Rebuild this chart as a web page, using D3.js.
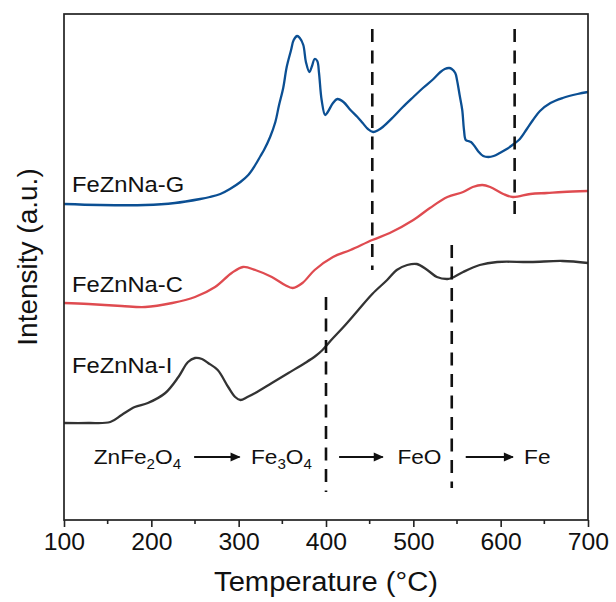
<!DOCTYPE html>
<html>
<head>
<meta charset="utf-8">
<script src="https://cdn.jsdelivr.net/npm/d3@7/dist/d3.min.js"></script>
<style>
  html, body { margin: 0; padding: 0; background: #fff; }
  svg text { font-family: "Liberation Sans", Arial, Helvetica, sans-serif; fill: #111; }
</style>
</head>
<body>
<svg id="chart" width="616" height="602"></svg>
<script>
// H2-TPR profiles (temperature in °C, intensity in a.u.)
const tempG = [100,141,193,227,256,267,279,290,302,311,319,325,329,336,342,346,351,355,360,363,367,370,374,377,381,384,387,390,392,395,399,402,408,413,420,428,436,442,448,454,460,465,477,488,500,511,523,531,536,541,544,548,550,553,556,558,560,563,566,570,574,580,586,592,599,607,615,622,630,637,645,657,671,688,700];
const intG  = [316,315,315,317,321,323,326,331,338,345,355,364,370,383,398,414,432,453,470,480,484,482,475,458,448,454,461,459,447,420,405,408,417,421,418,410,403,397,391,388,390,393,403,413,423,432,441,448,451,452,451,447,440,425,410,390,380,379,378,374,369,364,363,364,367,371,376,381,391,400,409,417,422,426,428];

const tempC = [100,128,166,193,224,250,273,292,305,319,338,353,362,373,387,408,428,453,473,500,519,539,557,568,579,588,603,614,634,653,671,700];
const intC  = [217,216,214,213,217,223,233,247,253,250,243,235,232,237,250,263,270,280,287,300,312,323,328,333,335,333,326,323,326,327,328,329];

const tempI = [100,128,153,166,181,196,216,231,242,250,258,265,276,288,296,302,310,319,338,357,376,388,396,405,420,436,453,470,481,493,504,516,527,539,544,557,576,596,634,671,700];
const intI  = [97,97,98,105,113,117,127,143,158,162,161,157,150,133,123,120,123,127,137,147,157,164,170,179,193,209,226,240,250,255,256,250,243,241,242,248,255,258,258,259,257];

const seriesNames  = ["FeZnNa-G", "FeZnNa-C", "FeZnNa-I"];
const seriesColors = ["#0b4f93", "#df4b50", "#333333"];

// phase-transition markers: temperature and vertical extent (a.u.)
const markerTemp   = [453, 616, 400, 544];
const markerTop    = [491, 491, 223, 275];
const markerBottom = [250, 302, 28, 32];

const xTicks = [100, 200, 300, 400, 500, 600, 700];
const xMinorTicks = [150, 250, 350, 450, 550, 650];

const W = 616, H = 602;
const m = { left: 64, right: 28, top: 14, bottom: 82 };
const svg = d3.select("#chart");
const stretch = 1.08;   // slightly wide lettering

const x = d3.scaleLinear().domain([100, 700]).range([m.left, W - m.right]);
const y = d3.scaleLinear().domain([0, 506]).range([H - m.bottom, m.top]);

function label(px, py, size, str, anchor) {
  return svg.append("text")
    .attr("transform", `translate(${px},${py}) scale(${stretch},1)`)
    .attr("font-size", size)
    .attr("text-anchor", anchor || "start")
    .text(str);
}

// curves
const series = [
  { name: seriesNames[0], color: seriesColors[0], t: tempG, v: intG, labelY: 192 },
  { name: seriesNames[1], color: seriesColors[1], t: tempC, v: intC, labelY: 292 },
  { name: seriesNames[2], color: seriesColors[2], t: tempI, v: intI, labelY: 373 }
];
const line = d3.line().x(d => x(d[0])).y(d => y(d[1])).curve(d3.curveCatmullRom.alpha(0.5));

series.forEach(s => {
  svg.append("path")
    .datum(d3.zip(s.t, s.v))
    .attr("fill", "none")
    .attr("stroke", s.color)
    .attr("stroke-width", 2.3)
    .attr("stroke-linejoin", "round")
    .attr("d", line);
  label(72, s.labelY, 22, s.name);
});

// dashed markers
markerTemp.forEach((t, i) => {
  svg.append("line")
    .attr("x1", x(t)).attr("x2", x(t))
    .attr("y1", y(markerTop[i])).attr("y2", y(markerBottom[i]))
    .attr("stroke", "#111")
    .attr("stroke-width", 2.6)
    .attr("stroke-dasharray", "13,8.5");
});

// reaction sequence
const defs = svg.append("defs");
defs.append("marker")
  .attr("id", "head").attr("viewBox", "0 0 10 10")
  .attr("refX", 9).attr("refY", 5)
  .attr("markerWidth", 5.5).attr("markerHeight", 5)
  .attr("markerUnits", "strokeWidth")
  .attr("orient", "auto")
  .append("path").attr("d", "M0,0.5 L10,5 L0,9.5 Z").attr("fill", "#111");

const phaseY = 464;
const arrows = [[249, 301], [415, 465], [560, 614]];
arrows.forEach(a => {
  svg.append("line")
    .attr("x1", x(a[0])).attr("x2", x(a[1]))
    .attr("y1", phaseY - 7).attr("y2", phaseY - 7)
    .attr("stroke", "#111").attr("stroke-width", 2)
    .attr("marker-end", "url(#head)");
});

function chem(parts, cx) {
  const t = label(x(cx), phaseY, 21, null, "middle");
  parts.forEach(p => {
    if (p[1]) {
      t.append("tspan").attr("font-size", 14).attr("dy", 5).text(p[0]);
    } else {
      t.append("tspan").attr("dy", p[2] || 0).text(p[0]);
    }
  });
}
chem([["ZnFe"], ["2", true], ["O", false, -5], ["4", true]], 184);
chem([["Fe"], ["3", true], ["O", false, -5], ["4", true]], 349);
chem([["FeO"]], 507);
chem([["Fe"]], 642);

// axis and frame
const xAxis = d3.axisBottom(x).tickValues(xTicks).tickSize(7).tickSizeOuter(0).tickPadding(6);
const gx = svg.append("g").attr("transform", `translate(0,${H - m.bottom})`).call(xAxis);
gx.select(".domain").remove();
gx.selectAll(".tick line").attr("stroke", "#222").attr("stroke-width", 1.6);
gx.selectAll(".tick text").attr("font-size", 24).attr("fill", "#111")
  .attr("font-family", "'Liberation Sans', Arial, sans-serif")
  .attr("transform", `scale(1.03,1)`);

svg.append("g").selectAll("line").data(xMinorTicks).join("line")
  .attr("x1", d => x(d)).attr("x2", d => x(d))
  .attr("y1", H - m.bottom).attr("y2", H - m.bottom + 4)
  .attr("stroke", "#222").attr("stroke-width", 1.6);

svg.append("rect")
  .attr("x", m.left).attr("y", m.top)
  .attr("width", W - m.left - m.right).attr("height", H - m.top - m.bottom)
  .attr("fill", "none").attr("stroke", "#222").attr("stroke-width", 1.7);

// axis titles
label((m.left + W - m.right) / 2, 591, 27, "Temperature (°C)", "middle");

svg.append("text")
  .attr("transform", "translate(37,257) rotate(-90)")
  .attr("text-anchor", "middle").attr("font-size", 28)
  .text("Intensity (a.u.)");
</script>
</body>
</html>
